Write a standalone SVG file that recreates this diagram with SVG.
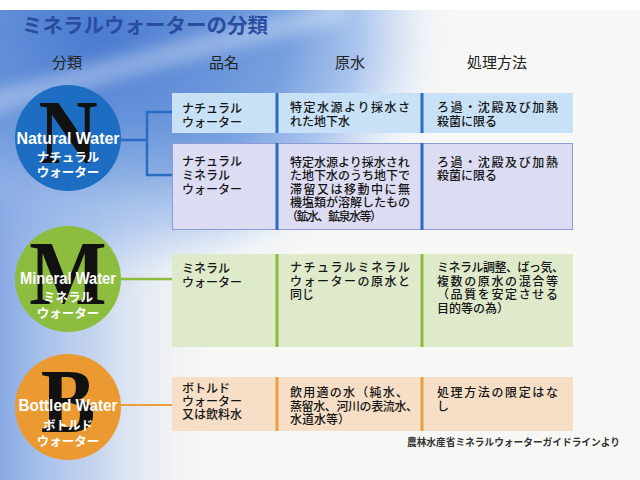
<svg xmlns="http://www.w3.org/2000/svg" width="640" height="480" viewBox="0 0 640 480">
<defs>
<radialGradient id="bgTop" cx="0.15" cy="0.05" r="0.75">
<stop offset="0" stop-color="#4a7bd0"/>
<stop offset="0.4" stop-color="#76a0df"/>
<stop offset="0.55" stop-color="#adc6ee"/>
<stop offset="0.68" stop-color="#eaf0f8" stop-opacity="0.8"/>
<stop offset="0.76" stop-color="#f7f7f5" stop-opacity="0"/>
</radialGradient>
<linearGradient id="bgLeft" x1="0" y1="0" x2="1" y2="0">
<stop offset="0" stop-color="#88a9e4"/>
<stop offset="0.45" stop-color="#a9c2ec" stop-opacity="0.6"/>
<stop offset="1" stop-color="#f7f7f5" stop-opacity="0"/>
</linearGradient>
<linearGradient id="bgLeftV" x1="0" y1="0" x2="0" y2="1">
<stop offset="0" stop-color="#fff" stop-opacity="0"/>
<stop offset="0.25" stop-color="#fff" stop-opacity="1"/>
<stop offset="1" stop-color="#fff" stop-opacity="1"/>
</linearGradient>
<mask id="leftMask"><rect x="0" y="120" width="220" height="360" fill="url(#bgLeftV)"/></mask>
<filter id="blur" x="-20%" y="-50%" width="140%" height="200%"><feGaussianBlur stdDeviation="7"/></filter>
<style>
.hdr{font-family:"Noto Sans CJK JP","Noto Sans",sans-serif;font-size:15px;fill:#222;text-anchor:middle}
.t{font-family:"Noto Sans CJK JP","Noto Sans",sans-serif;font-size:12px;font-weight:500;fill:#151515}
.big{font-family:"Liberation Serif","Times New Roman",serif;font-weight:bold;font-size:82px;fill:#111;text-anchor:middle}
.en{font-family:"Liberation Sans",Arial,sans-serif;font-weight:bold;font-size:16px;fill:#fff;text-anchor:middle}
.jp{font-family:"Noto Sans CJK JP",sans-serif;font-weight:bold;font-size:12.5px;fill:#fff;text-anchor:middle}
.dvB{stroke:#2a6cc4;stroke-width:3}
.dvG{stroke:#8cbb3e;stroke-width:3}
.dvO{stroke:#e9a03a;stroke-width:3}
</style>
</defs>

<rect x="0" y="0" width="640" height="480" fill="#f7f7f5"/>
<rect x="0" y="0" width="640" height="10" fill="#ffffff"/>
<rect x="0" y="10" width="640" height="470" fill="url(#bgTop)"/>
<rect x="0" y="120" width="220" height="360" fill="url(#bgLeft)" mask="url(#leftMask)"/>
<path d="M-20 95 Q150 45 345 0 L345 22 Q170 65 -20 118 Z" fill="#ffffff" opacity="0.3" filter="url(#blur)"/>

<text x="22" y="33" font-family="'Noto Sans CJK JP',sans-serif" font-size="20.5" font-weight="bold" fill="#2a4c9f">ミネラルウォーターの分類</text>

<g id="headers">
<text class="hdr" x="67" y="68">分類</text>
<text class="hdr" x="224" y="68">品名</text>
<text class="hdr" x="350" y="68">原水</text>
<text class="hdr" x="497" y="68">処理方法</text>
</g>

<g id="connectors" fill="none">
<path d="M121 140 H147 M147 111 V176 M146 112 H172 M146 175 H172 M243 176 H277" stroke="#2a6cc4" stroke-width="2.5"/>
<path d="M121 279 H172 M243 279 H277" stroke="#8cbb3e" stroke-width="2.5"/>
<path d="M121 405 H172 M243 405 H277" stroke="#e9a03a" stroke-width="2.2"/>
</g>

<g id="node-natural">
<circle cx="68" cy="138" r="53" fill="#1d6ec2"/>
<text class="big" transform="translate(68 163) scale(1 1.12)">N</text>
<text class="en" x="68" y="144" textLength="103" lengthAdjust="spacingAndGlyphs">Natural Water</text>
<text class="jp" x="68" y="162">ナチュラル</text>
<text class="jp" x="68" y="177">ウォーター</text>
</g>

<g id="node-mineral">
<circle cx="68" cy="279" r="53" fill="#8dbd3f"/>
<text class="big" transform="translate(68 304) scale(1 1.12)">M</text>
<text class="en" x="68" y="284" textLength="96" lengthAdjust="spacingAndGlyphs">Mineral Water</text>
<text class="jp" x="68" y="302">ミネラル</text>
<text class="jp" x="68" y="318">ウォーター</text>
</g>

<g id="node-bottled">
<circle cx="68" cy="407" r="53" fill="#ea9a30"/>
<text class="big" transform="translate(68 432) scale(1 1.12)">B</text>
<text class="en" x="68" y="411" textLength="99" lengthAdjust="spacingAndGlyphs">Bottled Water</text>
<text class="jp" x="68" y="430">ボトルド</text>
<text class="jp" x="68" y="446">ウォーター</text>
</g>

<g id="row-natural-water">
<rect x="172" y="93" width="401" height="40" fill="#c8e1f6"/>
<line class="dvB" x1="277" y1="93" x2="277" y2="133"/>
<line class="dvB" x1="422" y1="93" x2="422" y2="133"/>
<text class="t" x="182" y="113">ナチュラル</text>
<text class="t" x="182" y="127">ウォーター</text>
<text class="t" x="290" y="112" textLength="120" lengthAdjust="spacing">特定水源より採水さ</text>
<text class="t" x="290" y="126">れた地下水</text>
<text class="t" x="437" y="112" textLength="121" lengthAdjust="spacing">ろ過・沈殿及び加熱</text>
<text class="t" x="437" y="126">殺菌に限る</text>
</g>

<g id="row-natural-mineral-water">
<rect x="172.5" y="143.5" width="400" height="86" fill="#dcdcf2" stroke="#8e9cd6" stroke-width="1"/>
<line class="dvB" x1="277" y1="143" x2="277" y2="230"/>
<line class="dvB" x1="422" y1="143" x2="422" y2="230"/>
<text class="t" x="182" y="166">ナチュラル</text>
<text class="t" x="182" y="180">ミネラル</text>
<text class="t" x="182" y="194">ウォーター</text>
<text class="t" x="290" y="166.5">特定水源より採水され</text>
<text class="t" x="290" y="180">た地下水のうち地下で</text>
<text class="t" x="290" y="193.5" textLength="120" lengthAdjust="spacing">滞留又は移動中に無</text>
<text class="t" x="290" y="207">機塩類が溶解したもの</text>
<text class="t" x="286" y="220.5" textLength="96" lengthAdjust="spacing">（鉱水、鉱泉水等）</text>
<text class="t" x="437" y="166.5" textLength="121" lengthAdjust="spacing">ろ過・沈殿及び加熱</text>
<text class="t" x="437" y="180">殺菌に限る</text>
</g>

<g id="row-mineral-water">
<rect x="172" y="254" width="401" height="93" fill="#dfeacb"/>
<line class="dvG" x1="277" y1="254" x2="277" y2="347"/>
<line class="dvG" x1="422" y1="254" x2="422" y2="347"/>
<text class="t" x="182" y="273">ミネラル</text>
<text class="t" x="182" y="287">ウォーター</text>
<text class="t" x="290" y="272" textLength="120" lengthAdjust="spacing">ナチュラルミネラル</text>
<text class="t" x="290" y="285.5" textLength="120" lengthAdjust="spacing">ウォーターの原水と</text>
<text class="t" x="290" y="299">同じ</text>
<text class="t" x="437" y="272" textLength="127" lengthAdjust="spacing">ミネラル調整、ばっ気、</text>
<text class="t" x="437" y="285.5" textLength="121" lengthAdjust="spacing">複数の原水の混合等</text>
<text class="t" x="437" y="299" textLength="121" lengthAdjust="spacing">（品質を安定させる</text>
<text class="t" x="437" y="312.5">目的等の為）</text>
</g>

<g id="row-bottled-water">
<rect x="172" y="377" width="401" height="54" fill="#f6dfc6"/>
<line class="dvO" x1="277" y1="377" x2="277" y2="431"/>
<line class="dvO" x1="422" y1="377" x2="422" y2="431"/>
<text class="t" x="182" y="393">ボトルド</text>
<text class="t" x="182" y="406">ウォーター</text>
<text class="t" x="182" y="419">又は飲料水</text>
<text class="t" x="290" y="397" textLength="118" lengthAdjust="spacing">飲用適の水（純水、</text>
<text class="t" x="290" y="410.5" textLength="128" lengthAdjust="spacing">蒸留水、河川の表流水、</text>
<text class="t" x="290" y="424">水道水等）</text>
<text class="t" x="437" y="397" textLength="121" lengthAdjust="spacing">処理方法の限定はな</text>
<text class="t" x="437" y="410.5">し</text>
</g>

<text x="407" y="446" font-family="'Noto Sans CJK JP',sans-serif" font-size="9.7" font-weight="bold" fill="#333">農林水産省ミネラルウォーターガイドラインより</text>
</svg>
